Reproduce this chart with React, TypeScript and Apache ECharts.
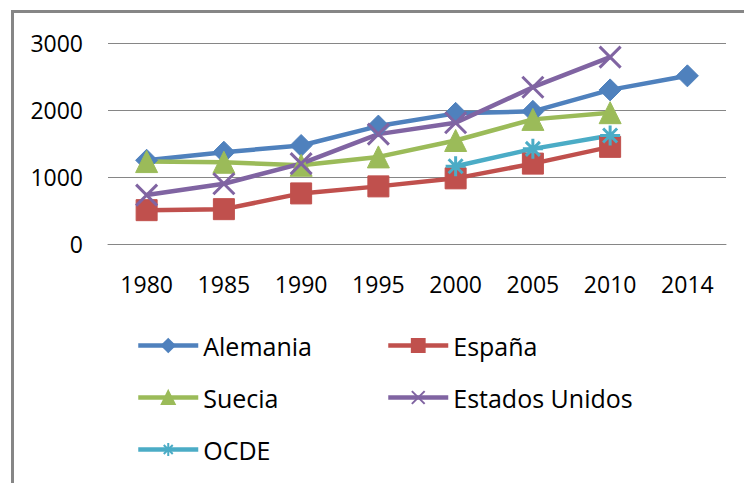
import React, { useEffect, useRef } from "react";
import * as echarts from "echarts";

const years = ["1980", "1985", "1990", "1995", "2000", "2005", "2010", "2014"];
const alemania = [1250, 1370, 1470, 1760, 1950, 1980, 2300, 2510];
const espana = [505, 520, 755, 860, 980, 1200, 1450, null];
const suecia = [1230, 1220, 1175, 1300, 1545, 1860, 1960, null];
const estadosUnidos = [730, 900, 1200, 1640, 1810, 2340, 2790, null];
const ocde = [null, null, null, null, 1160, 1420, 1620, null];
const yTicks = [0, 1000, 2000, 3000];
const legendCol1 = ["Alemania", "Suecia", "OCDE"];
const legendCol2 = ["España", "Estados Unidos"];

const FONT = "Open Sans";

export default function App() {
  const ref = useRef<HTMLDivElement>(null);
  useEffect(() => {
    if (!ref.current) return;
    const chart = echarts.init(ref.current, null, { renderer: "svg" });
    const mk = (
      name: string,
      data: (number | null)[],
      color: string,
      symbol: string,
      size: number,
      bw: number
    ) => ({
      name,
      type: "line",
      data,
      symbol,
      symbolSize: size,
      showAllSymbol: true,
      connectNulls: false,
      lineStyle: { color, width: 4.5 },
      itemStyle: { color, borderColor: color, borderWidth: bw },
      emphasis: { disabled: true },
    });
    const legendCommon = {
      itemWidth: 60,
      itemHeight: 16,
      lineStyle: { width: 4.5 },
      textStyle: { color: "#000", fontSize: 25, fontFamily: FONT },
      selectedMode: false,
    };
    const rowTops = [328, 380, 432];
    const legends: any[] = [];
    legendCol1.forEach((n, i) => legends.push({ ...legendCommon, data: [n], left: 131, top: rowTops[i] }));
    legendCol2.forEach((n, i) => legends.push({ ...legendCommon, data: [n], left: 381, top: rowTops[i] }));
    chart.setOption({
      animation: false,
      textStyle: { fontFamily: FONT },
      graphic: [
        {
          type: "rect",
          shape: { x: 12.5, y: 11.5, width: 800, height: 600 },
          style: { fill: "none", stroke: "#868686", lineWidth: 3 },
          z: 100,
        },
      ],
      grid: { left: 108, right: 18, top: 43, bottom: 239 },
      xAxis: {
        type: "category",
        data: years,
        boundaryGap: true,
        axisLine: { show: true, lineStyle: { color: "#868686", width: 1 } },
        axisTick: { show: false },
        axisLabel: { color: "#000", fontSize: 23, fontFamily: FONT, margin: 28 },
      },
      yAxis: {
        type: "value",
        min: yTicks[0],
        max: yTicks[yTicks.length - 1],
        interval: 1000,
        axisLine: { show: false },
        axisTick: { show: false },
        splitLine: { lineStyle: { color: "#868686", width: 1 } },
        axisLabel: {
          color: "#000",
          fontSize: 23,
          fontFamily: FONT,
          margin: 25,
          formatter: (v: number) => String(v),
        },
      },
      legend: legends,
      series: [
        mk("Alemania", alemania, "#4F81BD", "diamond", 22, 1),
        mk("España", espana, "#C0504D", "rect", 21, 1),
        mk("Suecia", suecia, "#9BBB59", "triangle", 22, 1),
        mk("Estados Unidos", estadosUnidos, "#8064A2", "path://M0,0L10,10M10,0L0,10", 21, 3),
        mk("OCDE", ocde, "#4BACC6", "path://M5,0L5,10M0,5L10,5M1.5,1.5L8.5,8.5M8.5,1.5L1.5,8.5", 20, 3),
      ],
    });
    return () => chart.dispose();
  }, []);
  return (
    <div
      ref={ref}
      style={{ position: "fixed", left: 0, top: 0, width: 744, height: 483, background: "#fff" }}
    />
  );
}
